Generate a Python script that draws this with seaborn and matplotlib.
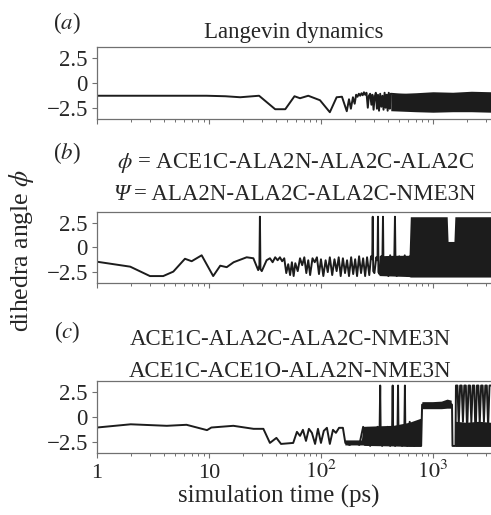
import numpy as np
import matplotlib
matplotlib.use('Agg')
import matplotlib.pyplot as plt
import seaborn as sns

# panel (a): Langevin dynamics, time in ps, angle in rad
a_time = [1, 2, 5, 9.5, 14, 19, 28, 39, 48, 58, 65, 77, 98, 120, 138, 154, 170, 178, 185, 193,
          200, 206, 212, 218, 224, 230, 236, 242, 248, 255, 262, 268, 275, 282, 288, 295, 302,
          309, 316, 323, 330, 338, 346, 354, 362, 370, 378, 386, 394, 403, 412, 420, 3300]
a_angle = [-1.3, -1.3, -1.3, -1.3, -1.35, -1.45, -1.3, -2.65, -2.65, -1.35, -1.55, -1.3, -1.75,
           -2.95, -1.45, -1.4, -2.85, -1.65, -2.6, -1.45,
           -2.1, -1.2, -1.4, -1.1, -1.3, -1.05, -1.25, -0.95, -1.2, -1.0, -2.5, -1.3, -1.1,
           -2.2, -1.2, -2.7, -1.4, -1.0, -2.6, -1.2, -2.8, -1.1, -2.4, -1.3, -2.7, -1.0, -2.5,
           -1.2, -2.8, -1.0, -2.6, -1.1, -1.9]
a_band_time = [420, 700, 1000, 1500, 2200, 3300]
a_band_low = [-2.8, -2.9, -2.95, -2.9, -2.9, -2.95]
a_band_high = [-1.1, -1.0, -0.9, -0.95, -0.85, -0.9]

# panel (b)
b_time = [1, 1.98, 2.97, 3.9, 4.8, 6.1, 7.0, 8.6, 10.9, 12.6, 14.4, 16.6, 21.7, 24.9, 27.5,
          28.2, 28.5, 28.8, 29.6, 32.7, 35, 37, 39, 41, 43, 45, 47, 49, 51, 53, 55, 57, 59, 62,
          65, 68, 71, 74, 77, 80, 84, 88, 92, 96, 100, 105, 110, 115, 120, 126, 132, 138, 144,
          150, 157, 164, 171, 178, 186, 194, 202, 210, 219, 228, 238, 248, 258, 270, 280, 287,
          290, 293, 300, 312, 320, 323, 326, 333, 345, 354, 358, 362, 370, 385, 400, 415, 430,
          452, 458, 464, 475, 500, 530, 560, 590, 620, 3300]
b_angle = [-1.45, -1.95, -2.9, -2.9, -2.45, -1.15, -1.4, -0.8, -2.9, -1.85, -2.0, -1.5, -1.0,
           -1.1, -2.3, -1.8, 3.1, -2.2, -2.4, -1.3, -1.1, -1.5, -1.0, -1.3, -1.0, -1.4, -1.1,
           -2.6, -1.7, -2.8, -1.5, -2.9, -1.6, -2.4, -1.1, -1.8, -1.0, -2.6, -1.3, -2.8, -1.1,
           -1.5, -1.0, -2.7, -1.2, -2.9, -1.3, -2.5, -1.0, -2.8, -1.2, -2.4, -1.0, -2.9, -1.1,
           -2.6, -1.3, -2.9, -1.0, -2.7, -1.2, -2.9, -0.9, -2.6, -1.1, -2.9, -1.0, -2.8, -0.9,
           -1.2, 3.1, -2.4, -2.6, -1.0, -1.3, 3.1, -2.5, -2.7, -0.9, -1.1, 3.1, -2.6, -2.8,
           -1.0, -2.9, -0.8, -2.7, -1.0, 3.1, -2.5, -2.9, -0.9, -2.8, -0.8, -2.9, -0.9, -2.0]
b_band_time = [330, 450, 612, 628, 900, 1340, 1365, 1540, 1570, 2200, 3300]
b_band_low = [-2.85, -2.9, -2.95, -3.0, -3.0, -3.0, -3.0, -3.0, -3.0, -3.0, -3.0]
b_band_high = [-0.85, -0.8, -0.8, 3.1, 3.1, 3.1, 0.6, 0.6, 3.1, 3.1, 3.1]

# panel (c)
c_time = [1, 2, 4.2, 6.3, 9.6, 10.5, 16.5, 25, 30.6, 35, 40, 44, 56.5, 61,
          65, 69, 73.5, 78, 83, 88.6, 94, 100, 106, 113, 120, 128, 136, 145, 157,
          165, 180, 200, 220, 238, 250, 262, 275, 290, 305, 320, 334, 338, 342, 352, 366, 380,
          395, 415, 432, 437, 442, 460, 483, 488, 493, 505, 530, 556, 562, 568, 590, 620, 680,
          740, 785, 800, 1000, 1200, 1350, 1480, 1495, 1590,
          1605, 1655, 1700, 1749, 1804, 1853, 1906, 1967, 2020, 2079, 2144, 2202, 2267, 2337,
          2401, 2471, 2548, 2617, 2694, 2778, 2853, 2936, 3026, 3110, 3201, 3295]
c_angle = [-1.07, -0.75, -0.9, -0.8, -1.33, -1.07, -0.9, -1.2, -1.2, -2.6, -2.1, -2.7, -2.6, -1.5,
           -1.9, -1.3, -2.4, -1.2, -1.6, -2.7, -1.2, -2.6, -1.4, -1.1, -2.7, -1.3, -1.6, -1.1,
           -1.1, -2.6, -2.8, -2.5, -2.8, -1.0, -2.7, -1.1, -2.9, -1.3, -2.8, -1.0, -1.2, 3.1,
           -2.6, -2.9, -1.2, -2.8, -1.0, -2.9, -1.1, 3.1, -2.7, -2.9, -1.0, 3.1, -2.4, -1.0,
           -2.9, -1.0, 3.1, -2.6, -2.9, -0.5, -2.9, -0.6, -2.9, 1.2, 1.1, 1.2, 1.5, 1.2, -2.9,
           -2.9,
           3.1, 3.1, -0.8, 3.1, 3.1, -0.5, 3.1, 3.1, -1.5, 3.1, 3.1, -0.6, 3.1, 3.1,
           -2.2, 3.1, 3.1, -0.7, 3.1, 3.1, -0.5, 3.1, 3.1, -1.0, 3.1, 3.1]
c_band_time = [165, 232, 240, 245, 450, 620, 785, 805, 1000, 1200, 1350, 1470, 1490, 1590,
               1600, 2000, 2600, 3300]
c_band_low = [-2.85, -2.85, -2.85, -2.9, -2.95, -3.0, -3.0, 0.75, 0.75, 0.75, 0.8, 0.8,
              np.nan, np.nan, -3.0, -3.0, -3.0, -3.0]
c_band_high = [-2.35, -2.35, -1.0, -1.0, -0.9, -0.6, -0.2, 1.45, 1.45, 1.5, 1.7, 1.6,
               np.nan, np.nan, -0.5, -0.6, -0.5, -0.6]

panels = [
    (a_time, a_angle, a_band_time, a_band_low, a_band_high, [0.1976, 0.7695, 0.8024, 0.1386]),
    (b_time, b_angle, b_band_time, b_band_low, b_band_high, [0.1976, 0.4505, 0.8024, 0.1373]),
    (c_time, c_angle, c_band_time, c_band_low, c_band_high, [0.1976, 0.1204, 0.8024, 0.1398]),
]

sns.set_style('ticks')
plt.rcParams['font.family'] = ['Liberation Serif', 'DejaVu Serif']
plt.rcParams['mathtext.fontset'] = 'stix'
fs = 16.5
plt.rcParams['font.size'] = fs

lineColor = '#1c1c1c'
spineColor = '#707070'

fig = plt.figure(figsize=(4.91, 5.15), dpi=100)
for i, (t, ang, bt, blo, bhi, pos) in enumerate(panels):
    ax = fig.add_axes(pos)
    ax.set_xscale('log')
    sns.lineplot(x=t, y=ang, ax=ax, color=lineColor, linewidth=1.4, estimator=None, sort=False)
    ax.fill_between(bt, blo, bhi, color=lineColor, linewidth=0)
    ax.set_xlim(1, 3300)
    ax.set_ylim(-3.6, 3.55)
    ax.set_yticks([-2.5, 0, 2.5])
    ax.set_yticklabels(['\u22122.5', '0', '2.5'])
    ax.set_xticks([1, 10, 100, 1000])
    ax.spines['right'].set_visible(False)
    for side in ['left', 'top', 'bottom']:
        ax.spines[side].set_color(spineColor)
        ax.spines[side].set_linewidth(0.9)
    ax.tick_params(axis='both', which='major', length=3.5, width=0.8, color=spineColor,
                   labelsize=fs, pad=3)
    ax.tick_params(axis='x', which='minor', length=2, width=0.7, color=spineColor)
    ax.set_xlabel('')
    ax.set_ylabel('')
    if i < 2:
        ax.set_xticklabels([])
    else:
        ax.set_xticklabels(['1', '10', r'$10^{2}$', r'$10^{3}$'])
        ax.tick_params(axis='x', which='major', pad=14.5, labelsize=16)
        for lab in ax.get_xticklabels():
            lab.set_verticalalignment('baseline')

# panel letters and titles
fig.text(0.1365, 0.9437, r'($a$)', ha='center', va='baseline')
fig.text(0.599, 0.9262, 'Langevin dynamics', ha='center', va='baseline')
fig.text(0.1365, 0.6903, r'($b$)', ha='center', va='baseline')
fig.text(0.601, 0.6744, r'$\phi$ = ACE1C-ALA2N-ALA2C-ALA2C', ha='center', va='baseline')
fig.text(0.621, 0.6117, '= ALA2N-ALA2C-ALA2C-NME3N', ha='center', va='baseline')
fig.text(0.263, 0.6117, '\u03a8', ha='right', va='baseline', fontstyle='italic')
fig.text(0.1365, 0.3427, r'($c$)', ha='center', va='baseline')
fig.text(0.5906, 0.3301, 'ACE1C-ALA2C-ALA2C-NME3N', ha='center', va='baseline')
fig.text(0.5906, 0.2685, 'ACE1C-ACE1O-ALA2N-NME3N', ha='center', va='baseline')

fig.text(0.568, 0.0235, 'simulation time (ps)', ha='center', va='baseline', fontsize=18)
fig.text(0.0448, 0.5146, r'dihedra angle $\phi$', ha='center', va='center', rotation=90,
         fontsize=18.5)

fig.savefig('out.png', dpi=100)
